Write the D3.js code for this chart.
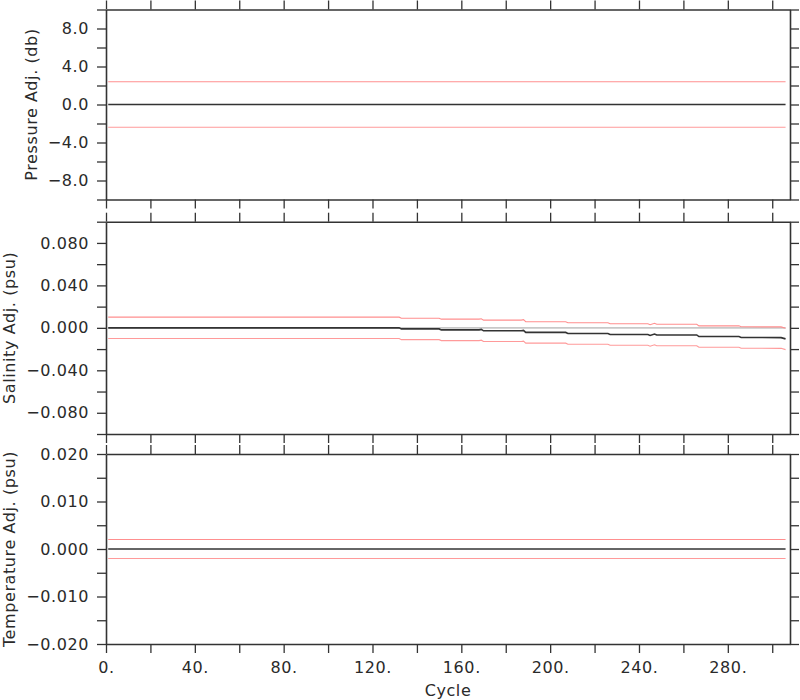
<!DOCTYPE html>
<html><head><meta charset="utf-8">
<script src="https://cdn.jsdelivr.net/npm/d3@7"></script>
<style>
body{margin:0;background:#fff}
text{font-family:"DejaVu Sans",sans-serif;fill:#2a2a2a;}
</style>
</head><body><svg id="c" width="800" height="700"></svg>
<script>
// ---- data ----
const cycleTicks = [0, 40, 80, 120, 160, 200, 240, 280];
const cycleMinorTicks = [0, 20, 40, 60, 80, 100, 120, 140, 160, 180, 200, 220, 240, 260, 280, 300];

const pressureCycles = [1, 306];
const pressureAdj = [0, 0];
const pressureErr = 2.4;
const pressureTicks = [-8, -4, 0, 4, 8];
const pressureMinorTicks = [-10, -8, -6, -4, -2, 0, 2, 4, 6, 8, 10];

const salinityCycles = [1, 132, 133, 150, 151, 168, 169, 170, 187, 188, 189, 207, 208, 226, 227, 244, 245, 247, 248, 266, 267, 285, 286, 304, 306];
const salinityAdj = [0, 0, -0.0010, -0.0010, -0.0019, -0.0019, -0.0015, -0.0028, -0.0028, -0.0024, -0.0043, -0.0043, -0.0053, -0.0053, -0.0063, -0.0063, -0.0072, -0.0058, -0.0067, -0.0067, -0.0082, -0.0082, -0.0091, -0.0092, -0.0104];
const salinityErr = 0.0101;
const salinityTicks = [-0.08, -0.04, 0, 0.04, 0.08];
const salinityMinorTicks = [-0.1, -0.08, -0.06, -0.04, -0.02, 0, 0.02, 0.04, 0.06, 0.08, 0.1];

const temperatureCycles = [1, 306];
const temperatureAdj = [0, 0];
const temperatureErr = 0.002;
const temperatureTicks = [-0.02, -0.01, 0, 0.01, 0.02];
const temperatureMinorTicks = [-0.02, -0.015, -0.01, -0.005, 0, 0.005, 0.01, 0.015, 0.02];

const panels = [
  {title: "Pressure Adj. (db)", cycles: pressureCycles, adj: pressureAdj, err: pressureErr,
   domain: [-10, 10], range: [199.5, 9.5], ticks: pressureTicks, minor: pressureMinorTicks,
   fmt: d3.format(".1f"), titleX: 37, zeroRef: false},
  {title: "Salinity Adj. (psu)", cycles: salinityCycles, adj: salinityAdj, err: salinityErr,
   domain: [-0.1, 0.1], range: [434, 221.7], ticks: salinityTicks, minor: salinityMinorTicks,
   fmt: d3.format(".3f"), titleX: 15, zeroRef: true},
  {title: "Temperature Adj. (psu)", cycles: temperatureCycles, adj: temperatureAdj, err: temperatureErr,
   domain: [-0.02, 0.02], range: [644, 454], ticks: temperatureTicks, minor: temperatureMinorTicks,
   fmt: d3.format(".3f"), titleX: 15, zeroRef: false}
];

const svg = d3.select("#c");
const x = d3.scaleLinear().domain([0, 308]).range([106, 790]);
const TS = 9;
const frameColor = "#333";

panels.forEach((p, i) => {
  const y = d3.scaleLinear().domain(p.domain).range(p.range);
  const g = svg.append("g");
  const pts = p.cycles.map((c, k) => ({c, v: p.adj[k]}));
  const line = d3.line().x(d => x(d.c)).y(d => y(d.v));

  if (p.zeroRef) {
    g.append("path").datum([{c: p.cycles[0], v: 0}, {c: p.cycles[p.cycles.length - 1], v: 0}])
      .attr("d", line).attr("fill", "none").attr("stroke", "#c8c8c8").attr("stroke-width", 1.6);
  }
  g.append("path").datum(pts.map(d => ({c: d.c, v: d.v + p.err})))
    .attr("d", line).attr("fill", "none").attr("stroke", "#ff8f8f").attr("stroke-width", 1.1);
  g.append("path").datum(pts.map(d => ({c: d.c, v: d.v - p.err})))
    .attr("d", line).attr("fill", "none").attr("stroke", "#ff9a9a").attr("stroke-width", 1.1);
  g.append("path").datum(pts)
    .attr("d", line).attr("fill", "none").attr("stroke", "#333").attr("stroke-width", 1.6);

  const isLab = d => p.ticks.some(t => Math.abs(t - d) < 1e-9);
  const y0 = p.range[0], y1 = p.range[1];

  const left = g.append("g").attr("transform", `translate(${x.range()[0]},0)`)
    .call(d3.axisLeft(y).tickValues(p.minor).tickSize(TS).tickSizeOuter(0).tickPadding(8)
      .tickFormat(d => isLab(d) ? p.fmt(d) : ""));
  const right = g.append("g").attr("transform", `translate(${x.range()[1]},0)`)
    .call(d3.axisRight(y).tickValues(p.minor).tickSize(TS).tickSizeOuter(0).tickFormat(""));
  const top = g.append("g").attr("transform", `translate(0,${y1})`)
    .call(d3.axisTop(x).tickValues(cycleMinorTicks).tickSize(TS).tickSizeOuter(0).tickFormat(""));
  const bottom = g.append("g").attr("transform", `translate(0,${y0})`)
    .call(d3.axisBottom(x).tickValues(cycleMinorTicks).tickSize(TS).tickSizeOuter(0).tickPadding(9)
      .tickFormat(d => (i === 2 && cycleTicks.includes(d)) ? d + "." : ""));

  [left, right, top, bottom].forEach(a => {
    a.select(".domain").attr("stroke", frameColor).attr("stroke-width", 1.6);
    a.selectAll(".tick line").attr("stroke", frameColor).attr("stroke-width", 1.3);
    a.selectAll("text").attr("font-size", 16).attr("letter-spacing", 0.6)
      .attr("font-family", "DejaVu Sans").attr("fill", "#2a2a2a");
  });

  const cy = (y0 + y1) / 2;
  svg.append("text").attr("transform", `translate(${p.titleX},${cy}) rotate(-90)`)
    .attr("text-anchor", "middle").attr("font-size", 16).attr("letter-spacing", 0.6)
    .text(p.title);
});

svg.append("text").attr("x", 448).attr("y", 696).attr("text-anchor", "middle")
  .attr("font-size", 16).attr("letter-spacing", 0.6).text("Cycle");
</script>
</body></html>
